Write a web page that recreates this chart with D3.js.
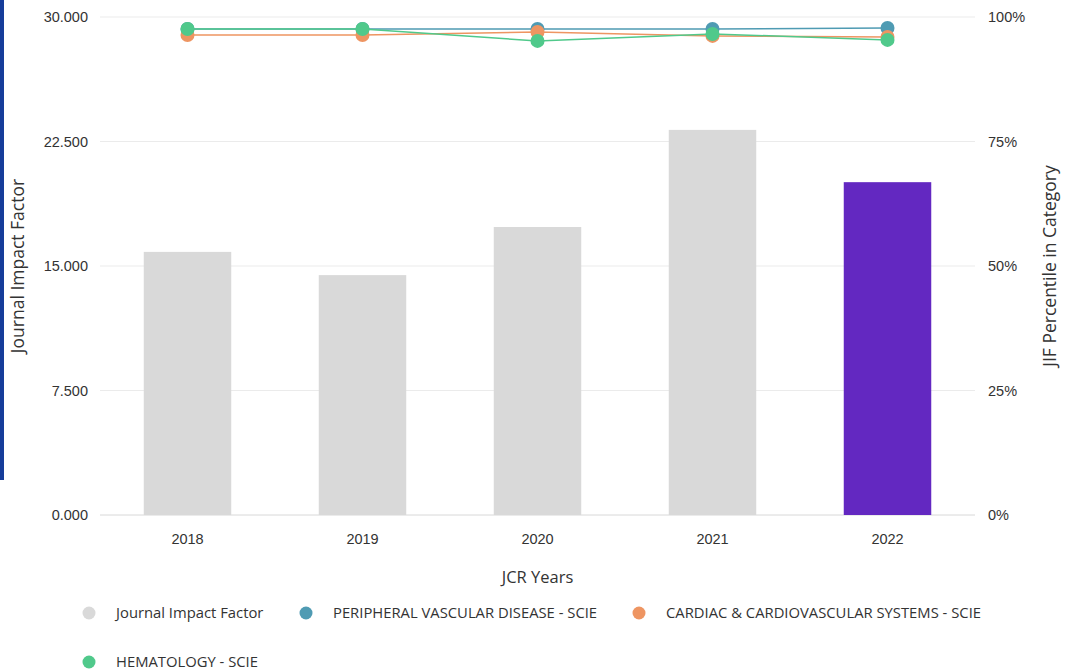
<!DOCTYPE html>
<html>
<head>
<meta charset="utf-8">
<script src="https://cdn.jsdelivr.net/npm/d3@7"></script>
<style>
  body { margin: 0; background: #fff; }
  svg { display: block; font-family: 'Open Sans', sans-serif; }
</style>
</head>
<body>
<svg width="1066" height="670"></svg>
<script>
// input data
const years = ['2018', '2019', '2020', '2021', '2022'];
const impactFactor = [15.85, 14.45, 17.35, 23.2, 20.05];
const peripheral = [97.6, 97.6, 97.6, 97.6, 97.8];
const cardiac = [96.4, 96.4, 97.0, 96.2, 96.0];
const hematology = [97.6, 97.6, 95.2, 96.6, 95.4];
const leftTicks = [0, 7.5, 15, 22.5, 30];
const rightTicks = [0, 25, 50, 75, 100];

const series = [
  { name: 'PERIPHERAL VASCULAR DISEASE - SCIE', values: peripheral, color: '#4f9bb3' },
  { name: 'CARDIAC & CARDIOVASCULAR SYSTEMS - SCIE', values: cardiac, color: '#ee9562' },
  { name: 'HEMATOLOGY - SCIE', values: hematology, color: '#50c98b' },
];

const svg = d3.select('svg');
const margin = { top: 17, right: 91, bottom: 155, left: 100 };
const width = 1066 - margin.left - margin.right;
const height = 670 - margin.top - margin.bottom;

// blue strip at the left edge of the screenshot
svg.append('rect')
  .attr('x', 0).attr('y', 0)
  .attr('width', 4).attr('height', 480)
  .attr('fill', '#163d9a');

const g = svg.append('g')
  .attr('transform', `translate(${margin.left} ${margin.top})`);

const x = d3.scaleBand().domain(years).range([0, width]).paddingInner(0.5).paddingOuter(0.25);
const y = d3.scaleLinear().domain([0, 30]).range([height, 0]);
const yPct = d3.scaleLinear().domain([0, 100]).range([height, 0]);

// gridlines
g.append('g')
  .selectAll('line')
  .data(leftTicks)
  .join('line')
  .attr('x1', 0)
  .attr('x2', width)
  .attr('y1', d => y(d))
  .attr('y2', d => y(d))
  .attr('stroke', d => (d === 0 ? '#d8d8d8' : '#ebebeb'))
  .attr('stroke-width', 1);

// left axis
const leftAxis = g.append('g')
  .call(d3.axisLeft(y).tickValues(leftTicks).tickFormat(d3.format('.3f')).tickSize(0).tickPadding(12));
leftAxis.select('.domain').remove();
leftAxis.selectAll('text').attr('font-size', 14.5).attr('fill', '#333');

// right axis
const rightAxis = g.append('g')
  .attr('transform', `translate(${width} 0)`)
  .call(d3.axisRight(yPct).tickValues(rightTicks).tickFormat(d => d + '%').tickSize(0).tickPadding(13));
rightAxis.select('.domain').remove();
rightAxis.selectAll('text').attr('font-size', 14.5).attr('fill', '#333');

// bottom axis
const bottomAxis = g.append('g')
  .attr('transform', `translate(0 ${height})`)
  .call(d3.axisBottom(x).tickSize(0).tickPadding(19));
bottomAxis.select('.domain').remove();
bottomAxis.selectAll('text').attr('font-size', 14.5).attr('fill', '#333');

// axis titles
svg.append('text')
  .attr('transform', `translate(24 ${margin.top + height / 2}) rotate(-90)`)
  .attr('text-anchor', 'middle')
  .attr('font-size', 17.5)
  .attr('fill', '#333')
  .text('Journal Impact Factor');

svg.append('text')
  .attr('transform', `translate(1056 ${margin.top + height / 2}) rotate(-90)`)
  .attr('text-anchor', 'middle')
  .attr('font-size', 17.5)
  .attr('fill', '#333')
  .text('JIF Percentile in Category');

svg.append('text')
  .attr('x', margin.left + width / 2)
  .attr('y', 583)
  .attr('text-anchor', 'middle')
  .attr('font-size', 16.5)
  .attr('fill', '#333')
  .text('JCR Years');

// bars
g.append('g')
  .selectAll('rect')
  .data(impactFactor)
  .join('rect')
  .attr('x', (d, i) => x(years[i]))
  .attr('y', d => y(d))
  .attr('width', x.bandwidth())
  .attr('height', d => height - y(d))
  .attr('fill', (d, i) => (i === years.length - 1 ? '#6328c1' : '#d9d9d9'));

// percentile lines
const line = d3.line()
  .x((d, i) => x(years[i]) + x.bandwidth() / 2)
  .y(d => yPct(d));

series.forEach(s => {
  const sg = g.append('g');
  sg.append('path')
    .attr('d', line(s.values))
    .attr('fill', 'none')
    .attr('stroke', s.color)
    .attr('stroke-width', 1.5);
  sg.selectAll('circle')
    .data(s.values)
    .join('circle')
    .attr('cx', (d, i) => x(years[i]) + x.bandwidth() / 2)
    .attr('cy', d => yPct(d))
    .attr('r', 7)
    .attr('fill', s.color);
});

// legend
const legendItems = [
  { name: 'Journal Impact Factor', color: '#d9d9d9', x: 89, y: 613 },
  { name: series[0].name, color: series[0].color, x: 306, y: 613 },
  { name: series[1].name, color: series[1].color, x: 639, y: 613 },
  { name: series[2].name, color: series[2].color, x: 89, y: 662 },
];

const legend = svg.append('g')
  .selectAll('g')
  .data(legendItems)
  .join('g')
  .attr('transform', d => `translate(${d.x} ${d.y})`);

legend.append('circle')
  .attr('r', 6.5)
  .attr('fill', d => d.color);

legend.append('text')
  .attr('x', 27)
  .attr('dy', '0.35em')
  .attr('font-size', 14.8)
  .attr('fill', '#333')
  .text(d => d.name);
</script>
</body>
</html>
